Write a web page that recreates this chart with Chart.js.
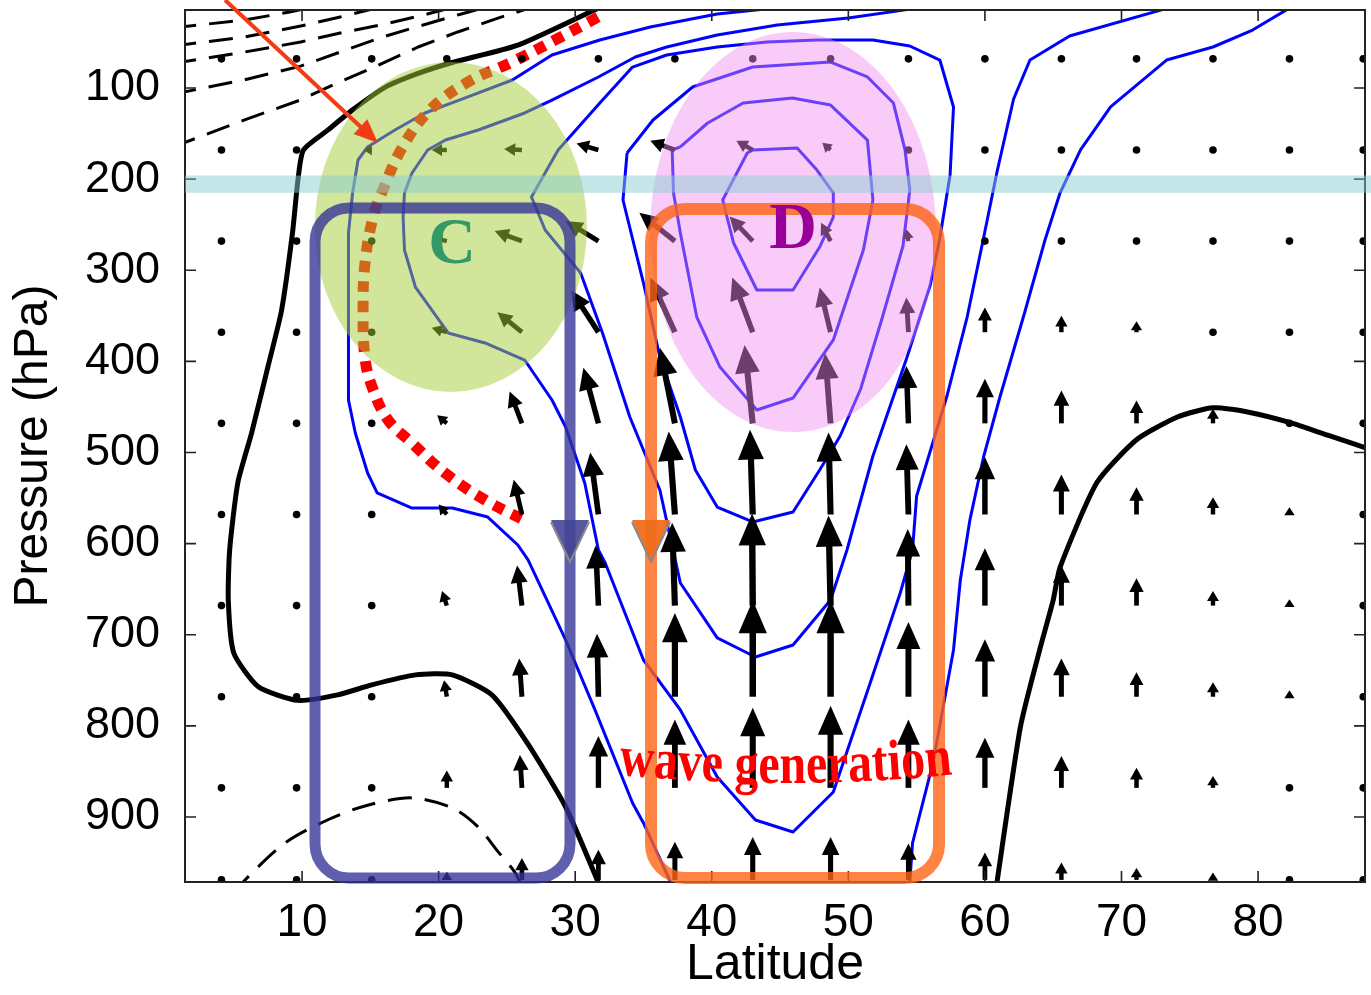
<!DOCTYPE html>
<html>
<head>
<meta charset="utf-8">
<script src="https://cdn.jsdelivr.net/npm/chart.js@4.4.1/dist/chart.umd.min.js"></script>
<style>
html, body { margin: 0; padding: 0; background: #fff; }
</style>
</head>
<body>
<canvas id="c" width="1371" height="995"></canvas>
<script>
// axis ticks
var latTicks = [10, 20, 30, 40, 50, 60, 70, 80];
var presTicks = [100, 200, 300, 400, 500, 600, 700, 800, 900];

// flux vector grid
var gridLat = [4.1, 9.6, 15.1, 20.6, 26.1, 31.7, 37.3, 43.0, 48.7, 54.4, 60.0, 65.6, 71.1, 76.7, 82.3, 87.7];
var gridPres = [68, 168, 268, 368, 468, 568, 668, 768, 868, 969];

// meridional component (deg latitude), one row per level
var fluxLat = [
    [0, 0, 0, 0, 0, 0, 0, 0, 0, 0, 0, 0, 0, 0, 0, 0],
    [0, 0, -0.6, -1.1, -1.3, -1.6, -1.8, -1.2, -0.6, -0.1, 0, 0, 0, 0, 0, 0],
    [0, 0, 0, -1.1, -2.0, -2.4, -2.6, -1.7, -0.7, -0.15, 0, 0, 0, 0, 0, 0],
    [0, 0, 0, -1.1, -1.8, -2.0, -1.8, -1.5, -0.8, -0.15, 0, 0, 0, 0, 0, 0],
    [0, 0, 0, -0.7, -0.9, -1.1, -1.1, -0.6, -0.4, -0.15, 0, 0, 0, 0, 0, 0],
    [0, 0, 0, -0.6, -0.6, -0.6, -0.45, -0.2, -0.15, -0.15, 0, 0, 0, 0, 0, 0],
    [0, 0, 0, -0.35, -0.35, -0.2, -0.2, -0.05, -0.15, -0.05, 0, 0, 0, 0, 0, 0],
    [0, 0, 0, -0.2, -0.2, -0.1, 0, 0, 0, 0, 0, 0, 0, 0, 0, 0],
    [0, 0, 0, 0, -0.15, 0, 0, 0, 0, 0, 0, 0, 0, 0, 0, 0],
    [0, 0, 0, 0, 0, 0, 0, 0, 0, 0, 0, 0, 0, 0, 0, 0]
];
// vertical component (hPa, upward positive)
var fluxP = [
    [0, 0, 0, 0, 0, 0, 0, 0, 0, 0, 0, 0, 0, 0, 0, 0],
    [0, 0, 0, 0, 1, 7, 10, 10, 8, 3, 0, 0, 0, 0, 0, 0],
    [5, 0, 0, 4, 11, 22, 31, 27, 20, 13, 3, 0, 0, 0, 0, 0],
    [0, 0, 0, 5, 22, 46, 60, 60, 49, 38, 27, 18, 12, 4, 0, 0],
    [0, 0, 0, 9, 35, 61, 83, 86, 77, 63, 49, 36, 25, 16, 4, 0],
    [0, 0, 0, 11, 38, 68, 91, 93, 90, 77, 63, 44, 30, 19, 8, 0],
    [0, 0, 0, 16, 44, 66, 91, 101, 99, 84, 63, 44, 30, 16, 7, 0],
    [0, 0, 0, 18, 42, 69, 92, 106, 106, 82, 63, 42, 27, 16, 7, 0],
    [0, 0, 0, 19, 36, 57, 75, 88, 90, 75, 55, 35, 22, 13, 5, 0],
    [0, 0, 0, 9, 24, 33, 42, 47, 47, 40, 30, 19, 13, 8, 3, 0]
];

// black contours [lat, hPa]
var blackLeft = [[32.3, 8], [25.8, 53], [21.0, 72], [18.5, 84], [16.1, 99], [13.7, 124], [11.9, 146], [10.1, 168], [9.7, 201], [9.3, 259], [8.5, 344], [7.5, 406], [6.3, 479], [5.3, 533], [4.7, 607], [4.6, 662], [5.0, 720], [6.8, 757], [9.7, 772], [12.6, 766], [15.1, 755], [18.3, 744], [21.0, 744], [23.9, 766], [26.5, 819], [29.3, 889], [31.7, 972]];
var blackRight = [[60.8, 980], [62.6, 801], [64.0, 717], [65.0, 662], [65.5, 626], [68.2, 533], [71.1, 486], [74.1, 461], [76.7, 451], [79.4, 456], [82.3, 467], [85.1, 481], [88.5, 498]];
var dash1 = [[0.5, 34], [5.8, 25.4], [9.1, 16.6], [10.5, 12]];
var dash2 = [[0.5, 54], [5.8, 44], [9.9, 32], [12.8, 22], [15.5, 12]];
var dash3 = [[0.5, 73], [5.8, 60.5], [9.9, 49.5], [12.8, 39.6], [15.7, 31], [18.6, 21], [20.9, 12]];
var dash4 = [[0.5, 107], [5.8, 91], [9.9, 76], [12.8, 60.5], [15.7, 45], [18.6, 32], [21.6, 19], [23.3, 12]];
var dash5 = [[0.5, 165], [5.8, 135], [9.9, 113], [12.8, 93], [15.6, 75], [18.5, 55], [21.4, 38.5], [24.4, 23], [26.3, 14], [27.0, 10]];
var dashLow = [[5.0, 985], [5.7, 971], [8.8, 928], [11.9, 903], [14.8, 887], [18.05, 879], [21.0, 890], [22.9, 911], [24.35, 938], [25.6, 961], [26.2, 980]];

// blue contours [lat, hPa]
var blueP = [[44.8, 12], [40.4, 18.8], [35.5, 33.1], [31.8, 47.3], [28.3, 63.8], [25.4, 91.2], [21.9, 111.0], [19.0, 127.4], [16.8, 146.1], [14.8, 164.7], [14.1, 179], [13.7, 215.2], [13.4, 259.1], [13.4, 314], [13.4, 442.4], [13.9, 478.6], [14.8, 522.5], [15.5, 544.4], [18.05, 560.9], [21.0, 560.9], [23.6, 570.8], [25.8, 601.5], [26.55, 617.9], [29.3, 705.7], [31.45, 782.5], [34.2, 884.6], [35.0, 906.5], [37.0, 972]];
var blueB1 = [[54.5, 972], [54.7, 928.5], [56.2, 840.7], [57.7, 716.7], [58.2, 639.9], [58.9, 574], [59.9, 504.9], [61.1, 439.1], [62.9, 346.9], [64.4, 266.8], [65.5, 215.2], [67.0, 168], [69.2, 120.8], [73.3, 69.3], [76.7, 55], [79.6, 36.4], [82.1, 14]];
var blueB2 = [[54.3, 14], [50.0, 23.2], [44.8, 30.9], [40.4, 41.8], [36.7, 55], [34.4, 66], [31.7, 87.9], [28.3, 113.2], [26.3, 127.4], [22.9, 146.1], [20.5, 157.1], [19.2, 168], [18.05, 193.3], [17.5, 215.2], [17.4, 241.6], [17.5, 277.8], [18.3, 318.4], [20.7, 368.8], [23.4, 379.8], [26.3, 398.5], [28.3, 442.4], [29.3, 472], [30.7, 533.4], [31.7, 607], [32.2, 621.2], [35.0, 727.7], [37.7, 782.5], [40.4, 856.1], [43.2, 903.3], [45.95, 916.4], [48.9, 872.5], [51.6, 752.9], [53.8, 654.2], [54.7, 607], [55.0, 547.7], [57.2, 439.1], [58.7, 351.3], [59.9, 264.6], [60.9, 191.1], [62.1, 112.1], [63.3, 69.3], [66.2, 42.9], [73.0, 14]];
var blueR = [[32.0, 113.2], [34.2, 77], [36.7, 63.8], [40.4, 55], [44.05, 49.5], [47.7, 47.3], [51.8, 47.3], [54.5, 53.9], [56.7, 69.3], [57.7, 120.8], [57.45, 195.5], [56.7, 264.6], [56.0, 316.2], [54.3, 395.2], [51.8, 503.8], [49.9, 607], [48.7, 661.8], [45.95, 711.2], [43.2, 724.4], [40.4, 703.5], [37.7, 643.2], [36.2, 541.1], [34.0, 461], [32.0, 368.8], [30.4, 303], [27.8, 255.8], [26.8, 219.6], [28.75, 168], [32.0, 113.2]];
var blueRing3 = [[33.8, 171.3], [35.7, 135.1], [38.6, 98.9], [43.0, 77], [48.7, 71.5], [51.4, 87.9], [53.3, 116.5], [54.15, 168], [54.5, 211.9], [54.0, 273.4], [52.5, 351.3], [50.9, 430.3], [49.4, 481.9], [47.9, 519.2], [45.95, 565.3], [43.0, 576.2], [40.4, 559.8], [38.8, 519.2], [37.7, 461], [36.2, 395.2], [35.0, 314], [33.5, 222.9], [33.8, 171.3]];
var blueRing2 = [[37.7, 164.7], [39.7, 138.4], [42.3, 116.5], [45.9, 111], [48.7, 118.7], [51.4, 157.1], [51.8, 222.9], [51.1, 277.8], [48.9, 376.5], [45.95, 440.2], [43.3, 453.3], [40.6, 406.2], [38.9, 351.3], [37.7, 259.1], [37.2, 215.2], [37.1, 168], [37.7, 164.7]];
var blueRing1 = [[43.0, 168], [46.25, 165.8], [47.7, 190], [48.9, 215.2], [48.9, 241.6], [47.9, 274.5], [45.95, 321.7], [43.3, 321.7], [41.6, 270.1], [40.8, 222.9], [42.6, 171.3], [43.0, 168]];

// red dotted path
var redPath = [[31.67, 22.1], [28.53, 47.3], [25.38, 71.5], [22.15, 93.4], [19.37, 124.1], [17.32, 165.8], [15.86, 214.1], [15.2, 241.6], [14.61, 292], [14.47, 343.6], [14.61, 396.3], [15.13, 428.1], [16.3, 464.3], [18.05, 489.6], [20.47, 522.5], [23.4, 552.1], [26.55, 576.2]];

// annotation layout, in data units
var notes = {
    green: { lat: 20.9, p: 252.5, rLat: 9.96, rP: 181 },
    pink: { lat: 45.95, p: 258, rLat: 10.47, rP: 219.5 },
    band: { p0: 196, p1: 215 },
    boxC: { lat0: 10.95, lat1: 29.62, p0: 231.7, p1: 966.9 },
    boxD: { lat0: 35.55, lat1: 56.64, p0: 232.8, p1: 966.9 },
    triP0: 574, triP1: 620,
    arrow: { from: [4.36, 3.4], to: [15.56, 160.4] },
    labelC: [20.98, 292], labelD: [45.95, 275.6], wave: [45.4, 862.6]
};

Chart.defaults.font.family = "'Liberation Sans', Arial, sans-serif";
Chart.defaults.color = '#000';

function pts(arr) { return arr.map(function (q) { return { x: q[0], y: q[1] }; }); }
function lineSet(arr, color, width, dash, tension) {
    return {
        data: pts(arr), showLine: true, borderColor: color, borderWidth: width,
        borderDash: dash || [], pointRadius: 0, fill: false, tension: tension || 0,
        borderJoinStyle: 'round', borderCapStyle: 'butt'
    };
}

var datasets = [
    lineSet(redPath, '#ff0000', 11, [11, 9], 0.4),
    lineSet(blueP, '#0000ff', 3),
    lineSet(blueB1, '#0000ff', 3),
    lineSet(blueB2, '#0000ff', 3),
    lineSet(blueR, '#0000ff', 3),
    lineSet(blueRing3, '#0000ff', 3),
    lineSet(blueRing2, '#0000ff', 3),
    lineSet(blueRing1, '#0000ff', 3),
    lineSet(blackLeft, '#000', 5, null, 0.2),
    lineSet(blackRight, '#000', 5, null, 0.2),
    lineSet(dash1, '#000', 3, [24, 13]),
    lineSet(dash2, '#000', 3, [24, 13]),
    lineSet(dash3, '#000', 3, [24, 13]),
    lineSet(dash4, '#000', 3, [24, 13]),
    lineSet(dash5, '#000', 3, [24, 13]),
    lineSet(dashLow, '#000', 3, [24, 13], 0.3)
];

function drawArrow(ctx, x0, y0, x1, y1) {
    var dx = x1 - x0, dy = y1 - y0, len = Math.sqrt(dx * dx + dy * dy);
    ctx.fillStyle = '#000'; ctx.strokeStyle = '#000';
    if (len < 5) { ctx.beginPath(); ctx.arc(x0, y0, 3.8, 0, Math.PI * 2); ctx.fill(); return; }
    var ux = dx / len, uy = dy / len;
    var hl = 6 + 0.28 * len, hw = (9 + 0.2 * len) / 2;
    var bx = x1 - ux * hl, by = y1 - uy * hl;
    ctx.lineWidth = Math.min(6.5, 4 + 0.026 * len);
    ctx.lineCap = 'butt';
    ctx.beginPath(); ctx.moveTo(x0, y0); ctx.lineTo(bx + ux * 3, by + uy * 3); ctx.stroke();
    ctx.beginPath(); ctx.moveTo(x1, y1); ctx.lineTo(bx - uy * hw, by + ux * hw); ctx.lineTo(bx + uy * hw, by - ux * hw); ctx.closePath(); ctx.fill();
}

function roundBox(ctx, x0, y0, x1, y1, r) {
    ctx.beginPath();
    ctx.moveTo(x0 + r, y0); ctx.lineTo(x1 - r, y0); ctx.arcTo(x1, y0, x1, y0 + r, r);
    ctx.lineTo(x1, y1 - r); ctx.arcTo(x1, y1, x1 - r, y1, r);
    ctx.lineTo(x0 + r, y1); ctx.arcTo(x0, y1, x0, y1 - r, r);
    ctx.lineTo(x0, y0 + r); ctx.arcTo(x0, y0, x0 + r, y0, r);
    ctx.closePath();
}

function drawArcText(ctx, text, cx, cy, k, stretch) {
    var total = ctx.measureText(text).width, x = cx - total / 2;
    for (var i = 0; i < text.length; i++) {
        var w = ctx.measureText(text[i]).width, mx = x + w / 2, d = mx - cx;
        ctx.save();
        ctx.translate(mx, cy - k * d * d);
        ctx.rotate(Math.atan(-2 * k * d));
        ctx.scale(1, stretch);
        ctx.fillText(text[i], 0, 0);
        ctx.restore();
        x += w;
    }
}

var decor = {
    id: 'decor',
    afterDatasetsDraw: function (chart) {
        var ctx = chart.ctx, xs = chart.scales.x, ys = chart.scales.y, a = chart.chartArea;
        function X(v) { return xs.getPixelForValue(v); }
        function Y(v) { return ys.getPixelForValue(v); }

        // vectors
        ctx.save();
        ctx.beginPath(); ctx.rect(a.left, a.top, a.right - a.left, a.bottom - a.top); ctx.clip();
        for (var r = 0; r < gridPres.length; r++) {
            for (var c = 0; c < gridLat.length; c++) {
                drawArrow(ctx, X(gridLat[c]), Y(gridPres[r]), X(gridLat[c] + fluxLat[r][c]), Y(gridPres[r] - fluxP[r][c]));
            }
        }
        ctx.restore();

        // frame and inward ticks
        ctx.save();
        ctx.strokeStyle = '#222'; ctx.lineWidth = 2;
        ctx.strokeRect(a.left, a.top, a.right - a.left, a.bottom - a.top);
        ctx.lineWidth = 1.6;
        latTicks.forEach(function (v) {
            var x = X(v);
            ctx.beginPath(); ctx.moveTo(x, a.bottom); ctx.lineTo(x, a.bottom - 11); ctx.moveTo(x, a.top); ctx.lineTo(x, a.top + 11); ctx.stroke();
        });
        presTicks.forEach(function (v) {
            var y = Y(v);
            ctx.beginPath(); ctx.moveTo(a.left, y); ctx.lineTo(a.left + 11, y); ctx.moveTo(a.right, y); ctx.lineTo(a.right - 11, y); ctx.stroke();
        });
        ctx.restore();

        // highlighted regions
        ctx.save();
        var g = notes.green, pk = notes.pink;
        ctx.fillStyle = 'rgba(165,205,55,0.5)';
        ctx.beginPath();
        ctx.ellipse(X(g.lat), Y(g.p), X(g.lat + g.rLat) - X(g.lat), Y(g.p + g.rP) - Y(g.p), 0, 0, Math.PI * 2);
        ctx.fill();
        ctx.fillStyle = 'rgba(240,140,240,0.45)';
        ctx.beginPath();
        ctx.ellipse(X(pk.lat), Y(pk.p), X(pk.lat + pk.rLat) - X(pk.lat), Y(pk.p + pk.rP) - Y(pk.p), 0, 0, Math.PI * 2);
        ctx.fill();

        ctx.fillStyle = 'rgba(140,205,210,0.5)';
        ctx.fillRect(a.left, Y(notes.band.p0), chart.width - a.left, Y(notes.band.p1) - Y(notes.band.p0));

        var bc = notes.boxC, bd = notes.boxD;
        ctx.lineWidth = 11;
        ctx.strokeStyle = 'rgba(50,50,150,0.78)';
        roundBox(ctx, X(bc.lat0), Y(bc.p0), X(bc.lat1), Y(bc.p1), 34); ctx.stroke();
        ctx.lineWidth = 12;
        ctx.strokeStyle = 'rgba(255,100,20,0.8)';
        roundBox(ctx, X(bd.lat0), Y(bd.p0), X(bd.lat1), Y(bd.p1), 34); ctx.stroke();

        // downward markers on the box edges
        [[bc.lat1, 'rgba(70,70,150,0.9)'], [bd.lat0, 'rgba(240,110,30,0.95)']].forEach(function (t) {
            var x = X(t[0]), y0 = Y(notes.triP0), y1 = Y(notes.triP1);
            ctx.beginPath(); ctx.moveTo(x - 19, y0); ctx.lineTo(x + 19, y0); ctx.lineTo(x, y1); ctx.closePath();
            ctx.fillStyle = t[1]; ctx.fill();
            ctx.lineWidth = 2; ctx.strokeStyle = '#888';
            ctx.beginPath(); ctx.moveTo(x - 19, y0 + 2); ctx.lineTo(x, y1); ctx.lineTo(x + 19, y0 + 2); ctx.stroke();
        });

        // pointer arrow
        var ax0 = X(notes.arrow.from[0]), ay0 = Y(notes.arrow.from[1]);
        var ax1 = X(notes.arrow.to[0]), ay1 = Y(notes.arrow.to[1]);
        var adx = ax1 - ax0, ady = ay1 - ay0, al = Math.sqrt(adx * adx + ady * ady), ux = adx / al, uy = ady / al;
        ctx.strokeStyle = '#f23c14'; ctx.fillStyle = '#f23c14'; ctx.lineWidth = 4;
        ctx.beginPath(); ctx.moveTo(ax0, ay0); ctx.lineTo(ax1 - ux * 18, ay1 - uy * 18); ctx.stroke();
        ctx.beginPath(); ctx.moveTo(ax1, ay1);
        ctx.lineTo(ax1 - ux * 24 - uy * 10, ay1 - uy * 24 + ux * 10);
        ctx.lineTo(ax1 - ux * 24 + uy * 10, ay1 - uy * 24 - ux * 10);
        ctx.closePath(); ctx.fill();

        // labels
        ctx.textAlign = 'center'; ctx.textBaseline = 'alphabetic';
        ctx.font = 'bold 66px "Liberation Serif", serif';
        ctx.fillStyle = '#339966';
        ctx.fillText('C', X(notes.labelC[0]), Y(notes.labelC[1]));
        ctx.fillStyle = '#990099';
        ctx.fillText('D', X(notes.labelD[0]), Y(notes.labelD[1]));
        ctx.font = 'bold 48px "Liberation Serif", serif';
        ctx.fillStyle = '#ff0000';
        drawArcText(ctx, 'wave generation', X(notes.wave[0]), Y(notes.wave[1]), 0.0003, 1.2);
        ctx.restore();
    }
};

new Chart(document.getElementById('c'), {
    type: 'scatter',
    data: { datasets: datasets },
    options: {
        responsive: false,
        animation: false,
        devicePixelRatio: 1,
        layout: { padding: { top: 10, right: 6, left: 0, bottom: 0 } },
        plugins: { legend: { display: false }, tooltip: { enabled: false } },
        scales: {
            x: {
                type: 'linear', min: 1.43, max: 87.83,
                afterBuildTicks: function (s) { s.ticks = latTicks.map(function (v) { return { value: v }; }); },
                afterFit: function (s) { s.height = 113; s.paddingLeft = 0; s.paddingRight = 0; },
                grid: { display: false, drawTicks: false },
                border: { display: false },
                ticks: { font: { size: 46 }, color: '#000', padding: 14, maxRotation: 0, autoSkip: false },
                title: { display: true, text: 'Latitude', font: { size: 50 }, color: '#000', padding: { top: 0, bottom: 0 } }
            },
            y: {
                type: 'linear', reverse: true, min: 14.4, max: 971.3,
                afterBuildTicks: function (s) { s.ticks = presTicks.map(function (v) { return { value: v }; }); },
                afterFit: function (s) { s.width = 185; s.paddingTop = 0; s.paddingBottom = 0; },
                grid: { display: false, drawTicks: false },
                border: { display: false },
                ticks: { font: { size: 45 }, color: '#000', padding: 25, autoSkip: false },
                title: { display: true, text: 'Pressure (hPa)', font: { size: 48 }, color: '#000', padding: { top: 5, bottom: 0 } }
            }
        }
    },
    plugins: [decor]
});
</script>
</body>
</html>
